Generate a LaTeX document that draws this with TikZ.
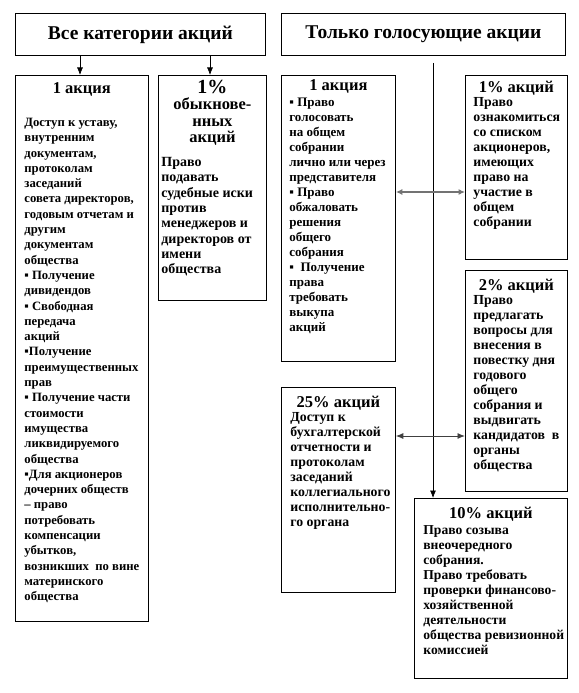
\documentclass[tikz,border=0pt]{standalone}
\usepackage{fontspec}
\setmainfont{Liberation Serif}
\usetikzlibrary{arrows.meta}
\newcommand\ttl{\fontsize{16.5pt}{16.3pt}\selectfont}
\newcommand\bdy[2]{\fontsize{#1pt}{#2pt}\selectfont\raggedright}
\hyphenpenalty=10000
\exhyphenpenalty=10000
\hbadness=10000
\hfuzz=50pt
\tikzset{
  frame/.style={draw=black, line width=0.8pt, inner sep=0pt, anchor=north west},
  head/.style={draw=black, line width=0.8pt, inner sep=0pt, anchor=north west, align=center,
    font=\fontsize{19.5pt}{20pt}\selectfont\bfseries},
  link/.style={draw=black, line width=0.7pt, -{Latex[length=7.5pt,width=6pt]}},
  dlink/.style={draw=black!55, line width=1.4pt, {Latex[length=6.5pt,width=6pt]}-{Latex[length=6.5pt,width=6pt]}},
  dlinkb/.style={draw=black!75, line width=0.9pt, {Latex[length=7.5pt,width=6pt]}-{Latex[length=7.5pt,width=6pt]}},
}
\begin{document}
\begin{tikzpicture}[x=1pt,y=-1pt]
\useasboundingbox (0,0) rectangle (578,693);
\fill[white] (0,0) rectangle (578,693);

\node[head, minimum width=250pt, minimum height=42pt] (h1) at (15,13) {Все категории акций};
\node[head, minimum width=284pt, minimum height=42pt] (h2) at (281,13) {Только голосующие акции};

% Box A
\node[frame] (A) at (15,75) {\parbox[c][546pt][t]{133pt}{\bfseries
{\ttl\centering\rule{0pt}{18pt}1 акция\par}
\vspace{17.7pt}
{\bdy{12.7}{15.3}\leftskip=9pt
Доступ~к~уставу,\\
внутренним\\
документам,\\
протоколам\\
заседаний\\
совета~директоров,\\
годовым~отчетам~и\\
другим\\
документам\\
общества\\
▪~Получение\\
дивидендов\\
▪~Свободная\\
передача\\
акций\\
▪Получение\\
преимущественных\\
прав\\
▪~Получение~части\\
стоимости\\
имущества\\
ликвидируемого\\
общества\\
▪Для~акционеров\\
дочерних~обществ\\
–~право\\
потребовать\\
компенсации\\
убытков,\\
возникших~~по~вине\\
материнского\\
общества\par}}};

% Box B
\node[frame] (B) at (158,75) {\parbox[c][225pt][t]{108pt}{\bfseries
{\fontsize{20pt}{20pt}\selectfont\centering\rule{0pt}{18pt}1\%\par}
{\ttl\centering обыкнове-\\нных\\акций\par}
\vspace{9pt}
{\bdy{14}{15.3}\leftskip=3pt
Право\\
подавать\\
судебные~иски\\
против\\
менеджеров~и\\
директоров~от\\
имени\\
общества\par}}};

% Box C
\node[frame] (C) at (281,75) {\parbox[c][286pt][t]{114pt}{\bfseries
{\ttl\centering\rule{0pt}{15pt}1 акция\par}
\vspace{1pt}
{\bdy{13}{15}\leftskip=8pt
▪~Право\\
голосовать\\
на~общем\\
собрании\\
лично~или~через\\
представителя\\
▪~Право\\
обжаловать\\
решения\\
общего\\
собрания\\
▪~~Получение\\
права\\
требовать\\
выкупа\\
акций\par}}};

% Box D
\node[frame] (D) at (465,75) {\parbox[c][184pt][t]{102pt}{\bfseries
{\ttl\centering\rule{0pt}{17pt}1\% акций\par}
\vspace{-1pt}
{\bdy{13.8}{15}\leftskip=8pt
Право\\
ознакомиться\\
со~списком\\
акционеров,\\
имеющих\\
право~на\\
участие~в\\
общем\\
собрании\par}}};

% Box E
\node[frame] (E) at (465,270) {\parbox[c][221pt][t]{102pt}{\bfseries
{\ttl\centering\rule{0pt}{20pt}2\% акций\par}
\vspace{-1pt}
{\bdy{13.8}{15}\leftskip=8pt
Право\\
предлагать\\
вопросы~для\\
внесения~в\\
повестку~дня\\
годового\\
общего\\
собрания~и\\
выдвигать\\
кандидатов~~в\\
органы\\
общества\par}}};

% Box F
\node[frame] (F) at (281,387) {\parbox[c][205pt][t]{114pt}{\bfseries
{\ttl\centering\rule{0pt}{20pt}25\% акций\par}
\vspace{-1pt}
{\bdy{13.8}{15}\leftskip=9pt
Доступ~к\\
бухгалтерской\\
отчетности~и\\
протоколам\\
заседаний\\
коллегиального\\
исполнительно-\\
го~органа\par}}};

% Box G
\node[frame] (G) at (414,498) {\parbox[c][180pt][t]{153pt}{\bfseries
{\ttl\centering\rule{0pt}{20pt}10\% акций\par}
\vspace{1pt}
{\bdy{13.6}{15}\leftskip=9pt
Право~созыва\\
внеочередного\\
собрания.\\
Право~требовать\\
проверки~финансово-\\
хозяйственной\\
деятельности\\
общества~ревизионной\\
комиссией\par}}};

% connectors
\coordinate (ax) at (80,60);
\coordinate (bx) at (210,60);
\draw[link] (h1.south -| ax) -- (A.north -| ax);
\draw[link] (h1.south -| bx) -- (B.north -| bx);

\coordinate (vt) at (433,63);
\draw[link] (vt) -- (G.north -| vt);

\coordinate (r1) at (433,192);
\coordinate (r2) at (433,436);
\draw[dlink] (C.east |- r1) -- (D.west |- r1);
\draw[dlinkb] (F.east |- r2) -- (E.west |- r2);
\end{tikzpicture}
\end{document}
